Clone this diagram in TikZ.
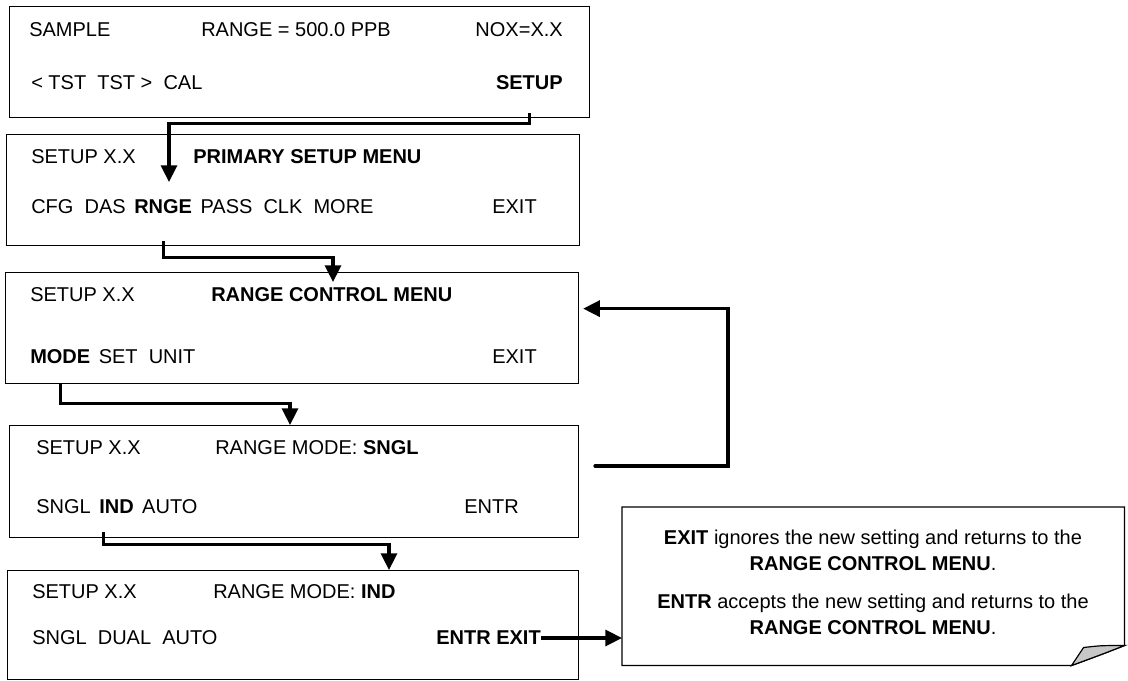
\documentclass[tikz,border=0pt]{standalone}
\usepackage{fontspec}
\setmainfont{Liberation Sans}
\usepackage{tikz}
\usetikzlibrary{positioning, arrows.meta}
\tikzset{>={Triangle[length=12.5pt,width=12pt]}}
\tikzset{
    panel/.style = {rectangle, draw, line width=0.9pt, anchor=north west, inner sep=0pt},
    item/.style = {anchor=west, inner sep=0pt},
    link/.style = {->, line width=2.4pt},
    notebox/.style = {rectangle, anchor=north west, inner sep=0pt, minimum width=376.5pt, minimum height=118.5pt},
    note/.style = {align=center, font=\fontsize{15}{19.5}\selectfont}
}

\begin{document}
\begin{tikzpicture}[x=0.75pt,y=-0.75pt]
			\tikzstyle{every node}=[font=\fontsize{15}{18}\selectfont]
			\useasboundingbox (0,0) rectangle (1128,681);
			\node (scr1) [panel, minimum width=435pt, minimum height=83.25pt] at (9,6) {};
			\node (scr2) [panel, minimum width=429.75pt, minimum height=83.25pt] at (6,134) {};
			\node (scr3) [panel, minimum width=429.75pt, minimum height=83.25pt] at (5,272) {};
			\node (scr4) [panel, minimum width=426.75pt, minimum height=84pt] at (9,425) {};
			\node (scr5) [panel, minimum width=428.25pt, minimum height=81.75pt] at (7,570) {};
			\node (callout) [notebox] at (622,507) {};
			\node (smp) [item] at (29,30) {SAMPLE};
			\node (rng) [item] at (201,30) {RANGE = 500.0 PPB};
			\node (nox) [item, anchor=east] at (563,30) {NOX=X.X};
			\node (tst) [item] at (31,83) {< TST\ \ TST >\ \ CAL};
			\node (setkey) [item, anchor=east] at (563,83) {\textbf{SETUP}};
			\node (sx2) [item] at (31,157) {SETUP X.X};
			\node (psm) [item] at (193,157) {\textbf{PRIMARY SETUP MENU}};
			\node (cfgdas) [item] at (31,207) {CFG\ \ DAS};
			\node (rngekey) [item, right=6pt of cfgdas] {\textbf{RNGE}};
			\node (more) [item, right=6pt of rngekey] {PASS\ \ CLK\ \ MORE};
			\node (exit2) [item] at (492,207) {EXIT};
			\node (sx3) [item] at (30,295) {SETUP X.X};
			\node (rcm) [item] at (211,295) {\textbf{RANGE CONTROL MENU}};
			\node (modekey) [item] at (30,357) {\textbf{MODE}};
			\node (setunit) [item, right=6pt of modekey] {SET\ \ UNIT};
			\node (exit3) [item] at (492,357) {EXIT};
			\node (sx4) [item] at (36,448) {SETUP X.X};
			\node (rms) [item] at (215,448) {RANGE MODE: \textbf{SNGL}};
			\node (sngl4) [item] at (36,507) {SNGL};
			\node (indkey) [item, right=6pt of sngl4] {\textbf{IND}};
			\node (auto4) [item, right=6pt of indkey] {AUTO};
			\node (entr4) [item] at (464,507) {ENTR};
			\node (sx5) [item] at (32,592) {SETUP X.X};
			\node (rmi) [item] at (213,592) {RANGE MODE: \textbf{IND}};
			\node (dual) [item] at (32,638) {SNGL\ \ DUAL\ \ AUTO};
			\node (entrexit) [item, anchor=east] at (541,638) {\textbf{ENTR\ EXIT}};
			\node (notetext) [note] at (873,582) {\textbf{EXIT} ignores the new setting and returns to the\\
				\textbf{RANGE CONTROL MENU}.\\[9pt]
				\textbf{ENTR} accepts the new setting and returns to the\\
				\textbf{RANGE CONTROL MENU}.};
			\coordinate (in2) at (169,182);
			\coordinate (in3) at (333,282);
			\coordinate (in4) at (290,425);
			\coordinate (in5) at (389,570);
			\coordinate (back) at (595,466);
			\draw [link] ([yshift=3.75pt]scr1.south -| setkey) -- ++(0,10) -| (in2);
			\draw [link] ([yshift=3.75pt]scr2.south -| rngekey) -- ++(0,16) -| (in3);
			\draw [link] (scr3.south -| modekey) -- ++(0,19) -| (in4);
			\draw [link] ([xshift=-10pt,yshift=5pt]scr4.south -| indkey) -- ++(0,13) -| (in5);
			\draw [link] (entrexit.east) -- (callout.west |- entrexit.east);
			\draw [link, line cap=round] (back) -- ++(133,0) |- ([xshift=3pt,yshift=14.6pt]scr3.east);
			\draw [line width=0.9pt] (callout.south west) -- (callout.north west) -- (callout.north east)
				-- ([yshift=15pt]callout.south east) .. controls ([xshift=-18pt,yshift=8pt]callout.south east)
				.. ([xshift=-39.75pt]callout.south east) -- cycle;
			\draw [line width=0.9pt, fill=black!22] ([xshift=-39.75pt]callout.south east)
				-- ([xshift=-30.75pt,yshift=13.5pt]callout.south east)
				.. controls ([xshift=-18pt,yshift=15pt]callout.south east) .. ([yshift=15pt]callout.south east)
				.. controls ([xshift=-18pt,yshift=8pt]callout.south east) .. cycle;
		\end{tikzpicture}
\end{document}
